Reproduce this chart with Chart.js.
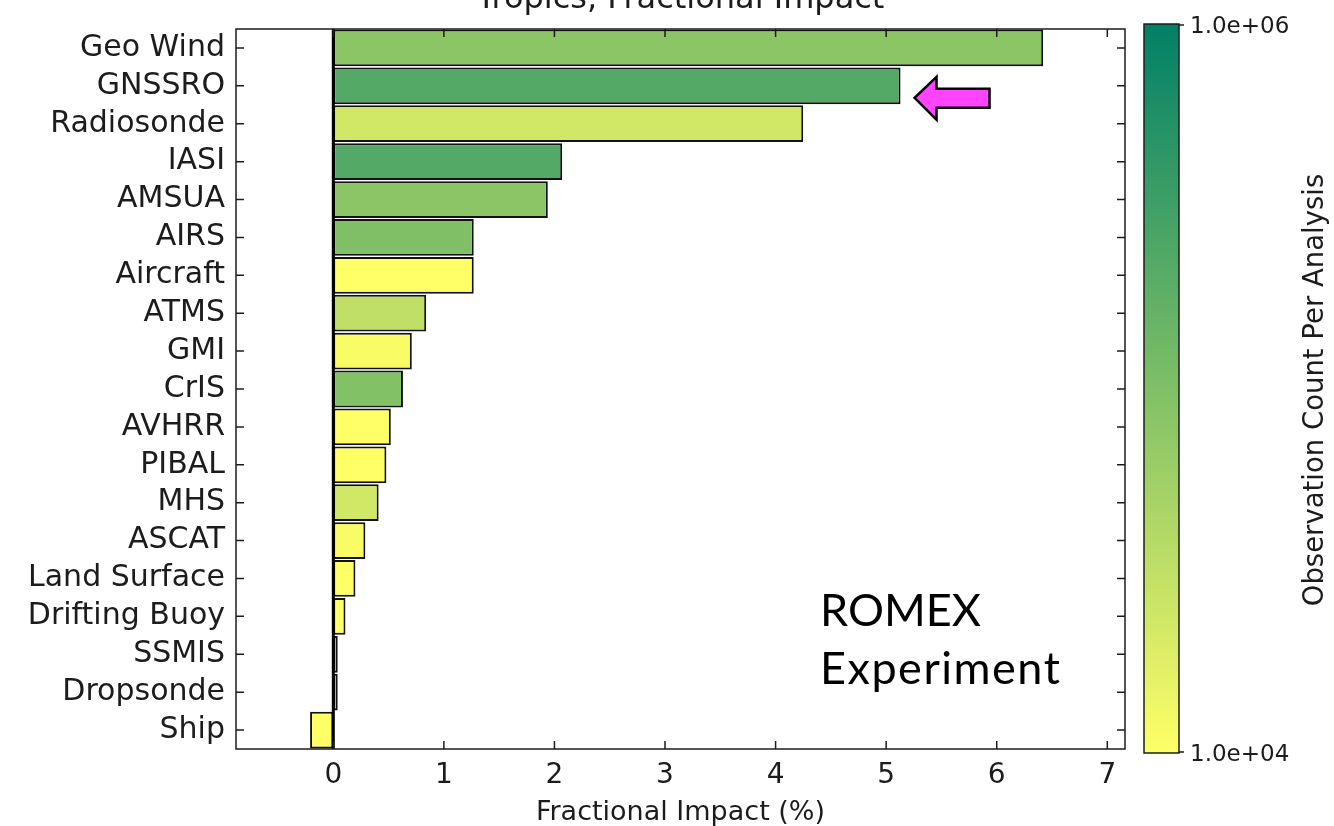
<!DOCTYPE html>
<html lang="en">

<head>
  <meta charset="UTF-8">
  <title>Tropics, Fractional Impact</title>
  <style>
    body { margin: 0; background: #fff; }
    .chart-box { position: relative; width: 1334px; height: 826px; }
  </style>
</head>

<body>
  <div class="chart-box">
    <canvas id="impactChart"></canvas>
  </div>

  <script src="https://cdn.jsdelivr.net/npm/chart.js"></script>
  <script>
    // observation types, largest impact first
    const obsTypes = ['Geo Wind', 'GNSSRO', 'Radiosonde', 'IASI', 'AMSUA', 'AIRS', 'Aircraft', 'ATMS', 'GMI', 'CrIS',
      'AVHRR', 'PIBAL', 'MHS', 'ASCAT', 'Land Surface', 'Drifting Buoy', 'SSMIS', 'Dropsonde', 'Ship'];
    // fractional impact (%)
    const impact = [6.42, 5.13, 4.25, 2.07, 1.94, 1.27, 1.27, 0.84, 0.71, 0.63,
      0.52, 0.48, 0.41, 0.29, 0.20, 0.11, 0.04, 0.04, -0.21];
    // observation count per analysis (colour of each bar)
    const obsCount = [8.0e4, 2.2e5, 2.3e4, 2.2e5, 8.0e4, 1.0e5, 1.0e4, 3.2e4, 1.1e4, 9.5e4,
      1.0e4, 1.0e4, 2.3e4, 1.1e4, 1.0e4, 1.0e4, 1.0e4, 1.0e4, 1.0e4];
    const xTicks = [0, 1, 2, 3, 4, 5, 6, 7];
    const countMin = 1e4, countMax = 1e6;
    const cbarLabels = ['1.0e+06', '1.0e+04'];

    const FONT = 'DejaVu Sans';
    const INK = '#1c1c1c';

    // summer colormap reversed, log scaled between countMin and countMax
    function summerR(count) {
      let n = Math.log10(count / countMin) / Math.log10(countMax / countMin);
      n = Math.max(0, Math.min(1, n));
      const s = 1 - n;
      return 'rgb(' + Math.round(s * 255) + ',' + Math.round((0.5 + 0.5 * s) * 255) + ',' + Math.round(0.4 * 255) + ')';
    }

    // frame, inward ticks, zero line, title, colorbar and the notes
    const decorations = {
      id: 'decorations',
      afterDatasetsDraw(chart) {
        const ctx = chart.ctx;
        const a = chart.chartArea;
        const xs = chart.scales.x;
        const ys = chart.scales.y;
        ctx.save();

        // zero line
        const x0 = xs.getPixelForValue(0);
        ctx.strokeStyle = '#000';
        ctx.lineWidth = 3;
        ctx.beginPath();
        ctx.moveTo(x0, a.top);
        ctx.lineTo(x0, a.bottom);
        ctx.stroke();

        // frame
        ctx.lineWidth = 1.5;
        ctx.strokeStyle = INK;
        ctx.strokeRect(a.left, a.top, a.right - a.left, a.bottom - a.top);

        // ticks pointing in, on all sides
        const tl = 8;
        ctx.beginPath();
        xTicks.forEach(v => {
          const px = xs.getPixelForValue(v);
          ctx.moveTo(px, a.bottom); ctx.lineTo(px, a.bottom - tl);
          ctx.moveTo(px, a.top); ctx.lineTo(px, a.top + tl);
        });
        obsTypes.forEach((_, i) => {
          const py = ys.getPixelForValue(i);
          ctx.moveTo(a.left, py); ctx.lineTo(a.left + tl, py);
          ctx.moveTo(a.right, py); ctx.lineTo(a.right - tl, py);
        });
        ctx.stroke();

        // title (top of the figure is cropped)
        ctx.fillStyle = INK;
        ctx.font = '32px "' + FONT + '"';
        ctx.textAlign = 'center';
        ctx.textBaseline = 'alphabetic';
        ctx.fillText('Tropics, Fractional Impact', (a.left + a.right) / 2, 8);

        // colorbar
        const cb = { left: 1144, right: 1179, top: 24, bottom: 753 };
        const grad = ctx.createLinearGradient(0, cb.top, 0, cb.bottom);
        grad.addColorStop(0, summerR(countMax));
        grad.addColorStop(1, summerR(countMin));
        ctx.fillStyle = grad;
        ctx.fillRect(cb.left, cb.top, cb.right - cb.left, cb.bottom - cb.top);
        ctx.strokeStyle = INK;
        ctx.lineWidth = 1.5;
        ctx.strokeRect(cb.left, cb.top, cb.right - cb.left, cb.bottom - cb.top);
        ctx.beginPath();
        ctx.moveTo(cb.right, cb.top + 1); ctx.lineTo(cb.right + 5, cb.top + 1);
        ctx.moveTo(cb.right, cb.bottom - 1); ctx.lineTo(cb.right + 5, cb.bottom - 1);
        ctx.stroke();

        ctx.fillStyle = INK;
        ctx.font = '23px "' + FONT + '"';
        ctx.textAlign = 'left';
        ctx.textBaseline = 'middle';
        ctx.fillText(cbarLabels[0], 1190, cb.top + 3);
        ctx.fillText(cbarLabels[1], 1190, cb.bottom + 2);

        ctx.save();
        ctx.translate(1316, 390);
        ctx.rotate(-Math.PI / 2);
        ctx.font = '27.5px "' + FONT + '"';
        ctx.textAlign = 'center';
        ctx.fillText('Observation Count Per Analysis', 0, 0);
        ctx.restore();

        // arrow pointing at the GNSSRO bar
        const gi = obsTypes.indexOf('GNSSRO');
        const tipX = xs.getPixelForValue(impact[gi]) + 14;
        const tipY = ys.getPixelForValue(gi) + 12;
        ctx.beginPath();
        ctx.moveTo(tipX, tipY);
        ctx.lineTo(tipX + 22, tipY - 21);
        ctx.lineTo(tipX + 22, tipY - 9);
        ctx.lineTo(tipX + 75, tipY - 9);
        ctx.lineTo(tipX + 75, tipY + 10);
        ctx.lineTo(tipX + 22, tipY + 10);
        ctx.lineTo(tipX + 22, tipY + 22);
        ctx.closePath();
        ctx.fillStyle = '#ff44ff';
        ctx.fill();
        ctx.strokeStyle = '#000';
        ctx.lineWidth = 2.5;
        ctx.lineJoin = 'miter';
        ctx.stroke();

        // experiment note
        ctx.fillStyle = '#000';
        ctx.font = '45px Lato';
        ctx.textAlign = 'left';
        ctx.textBaseline = 'alphabetic';
        ctx.fillText('ROMEX', 820, 626);
        ctx.letterSpacing = '1.5px';
        ctx.fillText('Experiment', 820, 684);

        ctx.restore();
      }
    };

    Chart.defaults.font.family = FONT;
    Chart.defaults.color = INK;

    const ctx = document.getElementById('impactChart').getContext('2d');
    new Chart(ctx, {
      type: 'bar',
      data: {
        labels: obsTypes,
        datasets: [{
          data: impact,
          backgroundColor: obsCount.map(summerR),
          borderColor: '#111',
          borderWidth: 2,
          borderSkipped: false,
          barPercentage: 0.97,
          categoryPercentage: 1.0
        }]
      },
      options: {
        indexAxis: 'y',
        responsive: true,
        maintainAspectRatio: false,
        animation: false,
        layout: {
          padding: { top: 25, right: 209, bottom: 0, left: 0 }
        },
        plugins: {
          legend: { display: false },
          tooltip: { enabled: false }
        },
        scales: {
          x: {
            type: 'linear',
            min: -0.88,
            max: 7.16,
            afterBuildTicks: scale => { scale.ticks = xTicks.map(v => ({ value: v })); },
            afterFit: scale => { scale.height = 77; },
            grid: { display: false, drawTicks: false },
            border: { display: false },
            ticks: {
              padding: 10,
              font: { size: 28 },
              color: INK
            },
            title: {
              display: true,
              text: 'Fractional Impact (%)',
              font: { size: 27 },
              color: INK,
              padding: { top: 0, bottom: -3 }
            }
          },
          y: {
            afterFit: scale => { scale.width = 236; },
            grid: { display: false, drawTicks: false },
            border: { display: false },
            ticks: {
              autoSkip: false,
              padding: 11,
              font: { size: 30 },
              color: INK
            }
          }
        }
      },
      plugins: [decorations]
    });
  </script>
</body>

</html>
